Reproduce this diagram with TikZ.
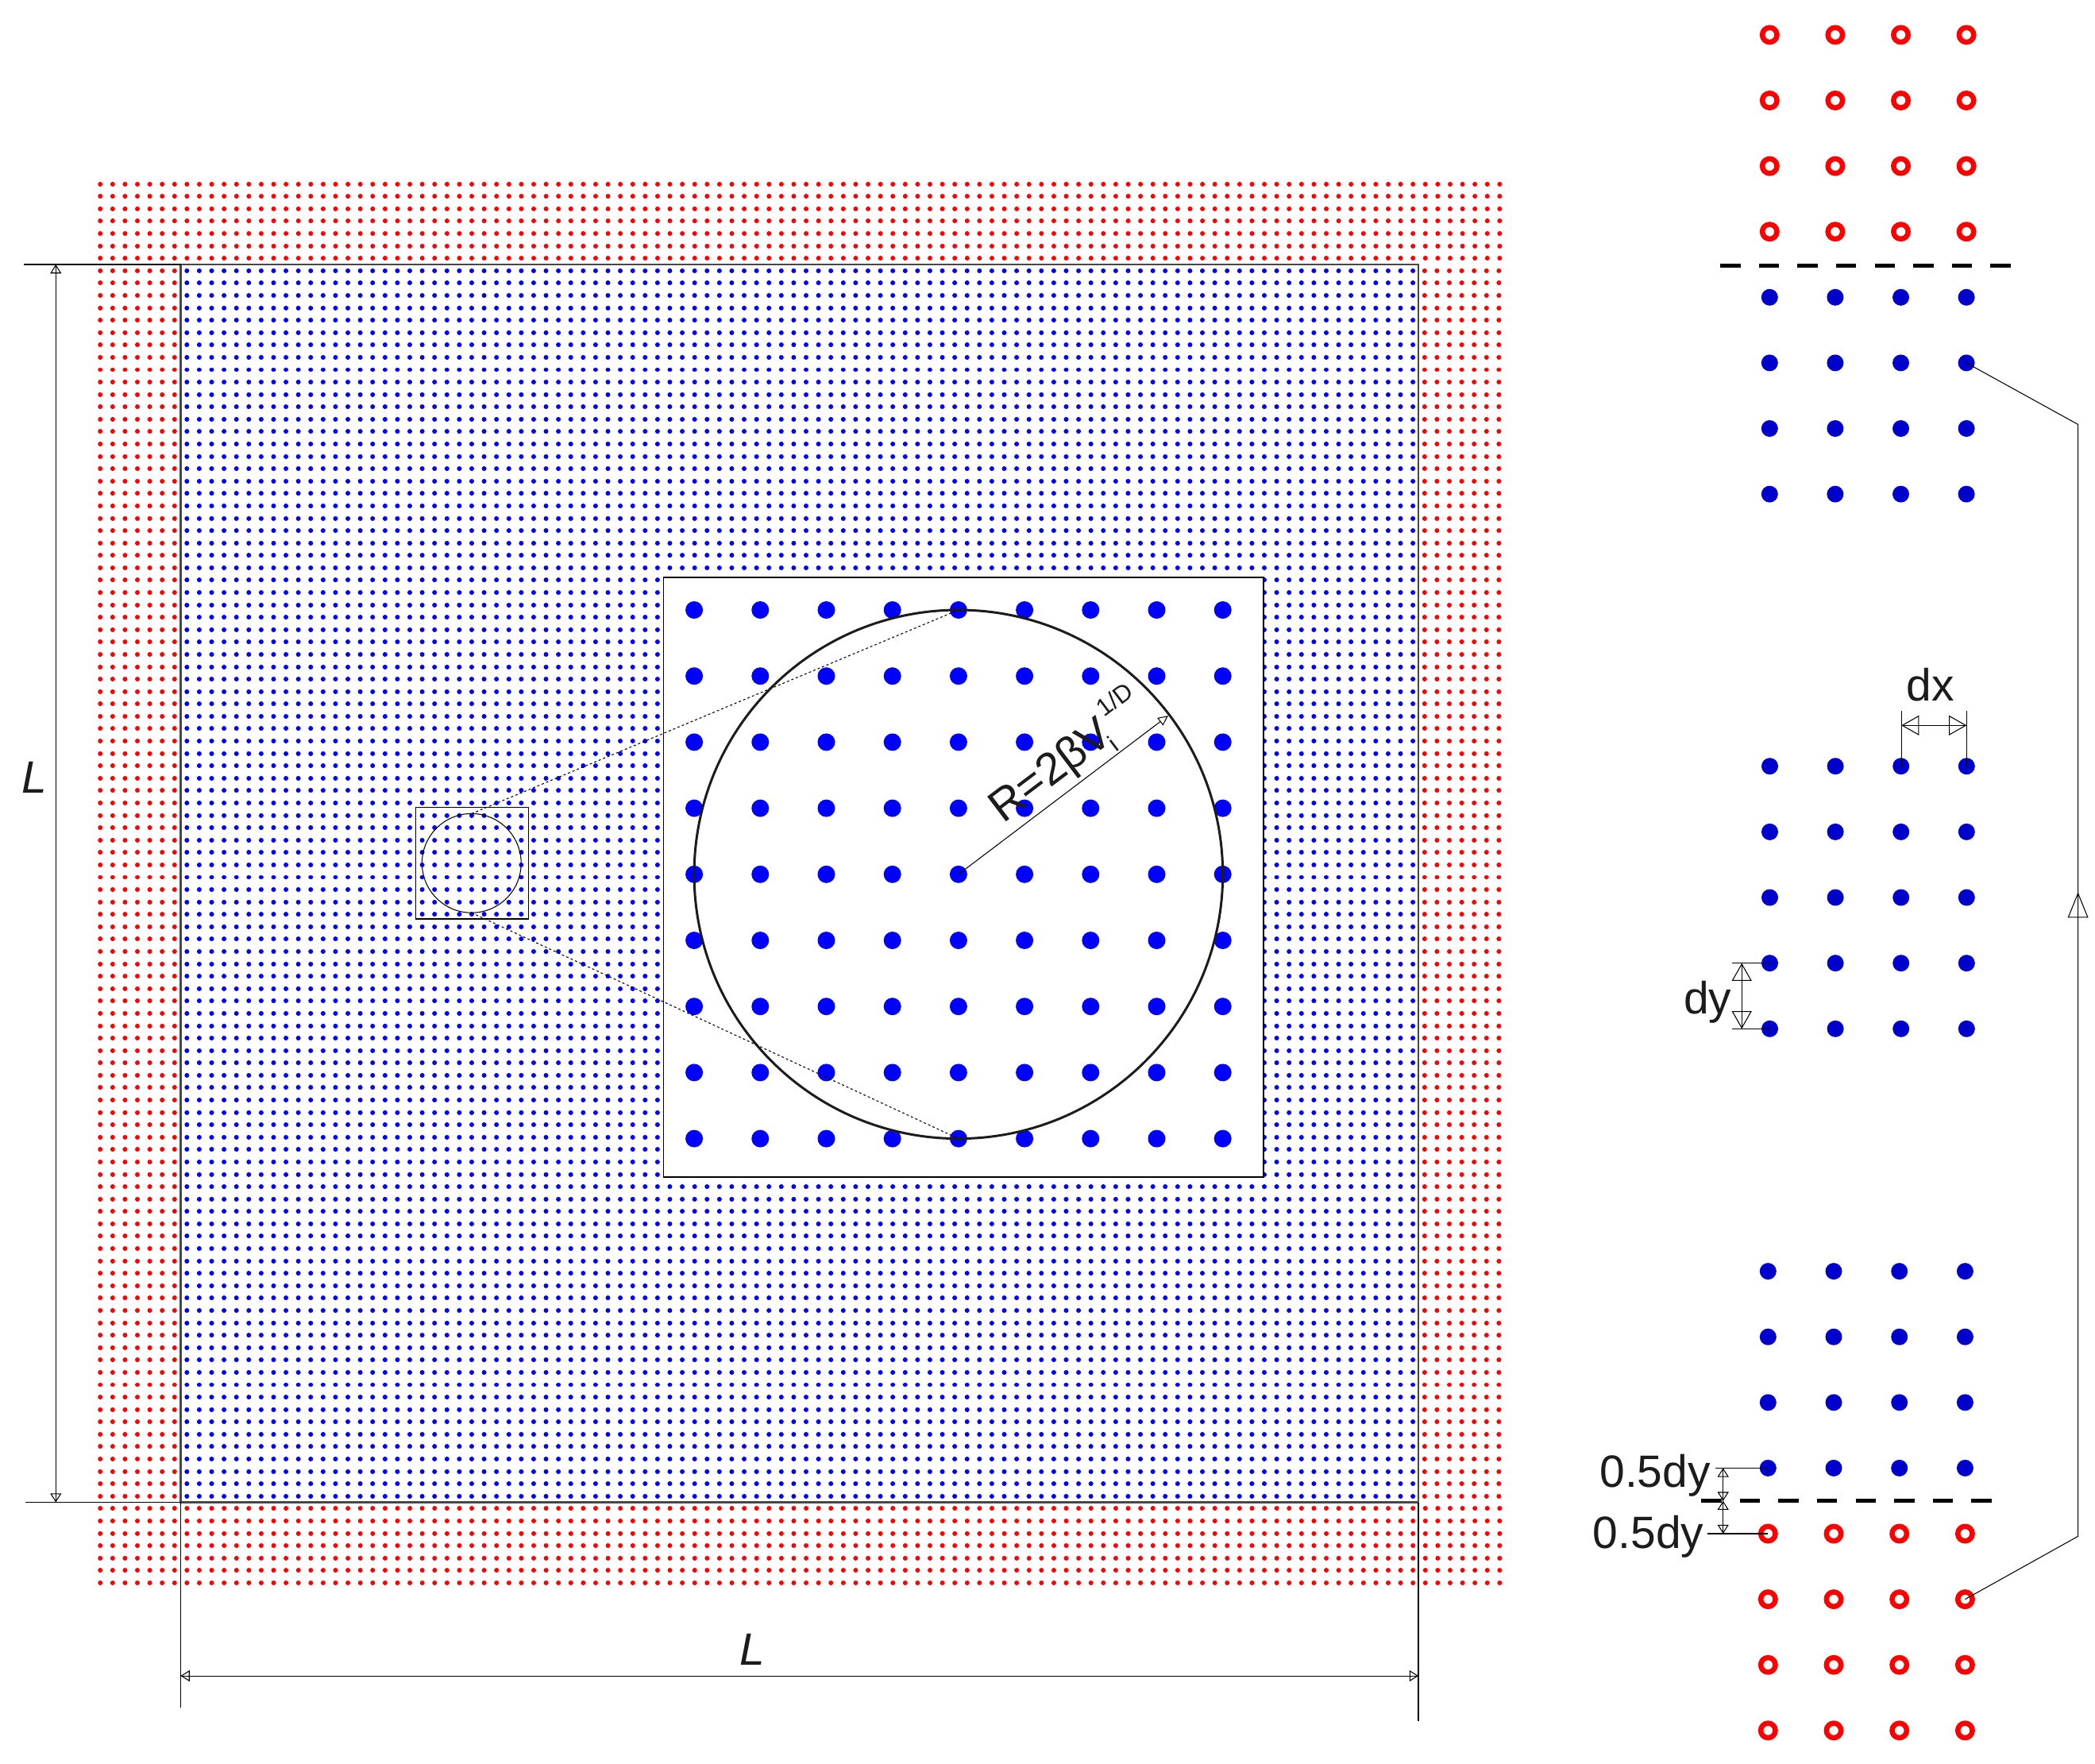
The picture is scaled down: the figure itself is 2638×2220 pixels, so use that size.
\documentclass[tikz,border=0pt]{standalone}
\usepackage{fontspec}
\setmainfont{Liberation Sans}
\usetikzlibrary{arrows.meta,calc}
\definecolor{fieldblue}{rgb}{0,0,1}
\definecolor{fieldred}{rgb}{1,0,0}
\definecolor{darkblue}{rgb}{0,0,0.8}
\definecolor{inkgray}{rgb}{0.11,0.11,0.11}
\newcommand\lblfont{\fontsize{16.2}{19}\selectfont}
\newcommand\smlfont{\fontsize{8.8}{10}\selectfont}
\begin{document}
\begin{tikzpicture}[x=0.01cm,y=-0.01cm,
  thinline/.style={line width=0.3pt, draw=black},
  reddots/.style={draw=fieldred, line width=1.7pt, line cap=round, dash pattern=on 0.01pt off 4.424363pt},
  bluedots/.style={draw=fieldblue, line width=1.7pt, line cap=round, dash pattern=on 0.01pt off 4.424363pt},
  dimsmall/.style={thinline, {Triangle[open,length=3.2pt,width=4pt]}-{Triangle[open,length=3.2pt,width=4pt]}},
  dimbig/.style={thinline, {Triangle[open,length=6.3pt,width=7.1pt]}-{Triangle[open,length=6.3pt,width=7.1pt]}},
  lbl/.style={font=\lblfont, text=inkgray, inner sep=0pt},
  ring/.style={draw=fieldred, line width=1.85pt},
  bdot/.style={fill=darkblue},
  sepline/.style={draw=black, line width=1.42pt, dash pattern=on 7.26pt off 6.57pt}
]
\useasboundingbox (0,0) rectangle (2638,2220);
\fill[white] (0,0) rectangle (2638,2220);

% ---------- particle field ----------
\foreach \j in {0,...,113}{
  \pgfmathsetmacro\yy{231.72+\j*15.585}
  \ifnum\j<7
    \draw[reddots] (126.2,\yy) -- (1890,\yy);
  \else\ifnum\j>106
    \draw[reddots] (126.2,\yy) -- (1890,\yy);
  \else
    \draw[reddots] (126.2,\yy) -- (222,\yy);
    \draw[bluedots] (235.29,\yy) -- (1781,\yy);
    \draw[reddots] (1793.78,\yy) -- (1890,\yy);
  \fi\fi
}
\draw[line width=0.7pt, black!72] (227.5,333) rectangle (1786,1891.5);

% ---------- dimension L (left) ----------
\coordinate (Ltop) at (70.3,333);
\coordinate (Lbot) at (70.3,1891.5);
\coordinate (Etl) at (30,333);
\coordinate (Ebl) at (32,1891.5);
\coordinate (boxtl) at (227.5,333);
\coordinate (boxbl) at (227.5,1891.5);
\coordinate (boxbr) at (1786,1891.5);
\draw[thinline] (Etl) -- (boxtl);
\draw[thinline] (Ebl) -- (boxbl);
\draw[thinline] (Ltop) -- (Lbot);
\draw[dimsmall] (Ltop) -- (Lbot);
\node[lbl, font=\lblfont\itshape, anchor=base] (Lleft) at (43,998.7) {L};

% ---------- dimension L (bottom) ----------
\coordinate (Ebottoml) at (227.5,2150);
\coordinate (Ebottomr) at (1786,2167);
\coordinate (Dl) at (227.5,2110);
\coordinate (Dr) at (1786,2110);
\draw[thinline] (boxbl) -- (Ebottoml);
\draw[thinline] (boxbr) -- (Ebottomr);
\draw[thinline] (Dl) -- (Dr);
\draw[dimsmall] (Dl) -- (Dr);
\node[lbl, font=\lblfont\itshape, anchor=base] (Lbottom) at (947,2096.7) {L};

% ---------- inset ----------
\filldraw[fill=white, draw=black, line width=0.45pt] (835.7,726.7) rectangle (1591,1482);
\foreach \i in {0,...,8}{
  \foreach \k in {0,...,8}{
    \fill[fieldblue] ({874.1+\i*83.2},{768+\k*83.2}) circle[radius=11];
  }
}
\coordinate (bc) at (1206.9,1100.8);
\coordinate (bctop) at (1206.9,768);
\coordinate (bcbot) at (1206.9,1433.6);
\draw[line width=0.85pt, inkgray] (bc) circle[radius=332.8];

% small window
\coordinate (sc) at (593.8,1086.8);
\coordinate (sctop) at (593.8,1024.4);
\coordinate (scbot) at (593.8,1149.2);
\draw[line width=0.4pt] (523.3,1016.3) rectangle (665.7,1157);
\draw[line width=0.3pt] (sc) circle[radius=62.4];
\draw[line width=0.3pt, dash pattern=on 0.85pt off 0.85pt] (sctop) -- (bctop);
\draw[line width=0.3pt, dash pattern=on 0.85pt off 0.85pt] (scbot) -- (bcbot);

% radius
\coordinate (rend) at (1470.9,901.1);
\draw[thinline, -{Triangle[open,length=3.6pt,width=3.4pt]}] (bc) -- (rend);
\node[lbl, rotate=37.1, anchor=base west] (rlabel) at (1262.6,1038.2)
  {R=2βV\kern-2.6pt\raisebox{-4pt}{\smlfont i}\kern2.3pt\raisebox{8.5pt}{\smlfont 1/D}};

% ---------- right column ----------
% top section
\foreach \c in {0,...,3}{
  \foreach \r in {0,...,3}{
    \draw[ring] ({2228.3+\c*82.6},{43.9+\r*82.6}) circle[radius=9.2];
    \fill[bdot] ({2228.3+\c*82.6},{374.3+\r*82.6}) circle[radius=10.5];
  }
}
\draw[sepline] (2166,334) -- (2532,334);
% middle section
\foreach \c in {0,...,3}{
  \foreach \r in {0,...,4}{
    \fill[bdot] ({2228.5+\c*82.6},{964.7+\r*82.65}) circle[radius=10.5];
  }
}
% bottom section
\foreach \c in {0,...,3}{
  \foreach \r in {0,...,3}{
    \fill[bdot] ({2226.3+\c*82.7},{1600.6+\r*82.6}) circle[radius=10.5];
    \draw[ring] ({2226.3+\c*82.7},{1931+\r*82.6}) circle[radius=9.2];
  }
}
\draw[sepline] (2142,1889.7) -- (2508,1889.7);

% periodic connector
\coordinate (pblue) at (2476.1,456.9);
\coordinate (pc1) at (2616.6,534.4);
\coordinate (pc2) at (2616.6,1934.3);
\coordinate (pred) at (2474.4,2013.6);
\coordinate (parrowbase) at (2616.6,1180);
\coordinate (parrowtip) at (2616.6,1123.3);
\draw[thinline] (pred) -- (pc2) -- (pc1) -- (pblue);
\draw[thinline, -{Triangle[open,length=9.1pt,width=7.3pt]}] (parrowbase) -- (parrowtip);

% dx
\coordinate (dxa) at (2394.2,913.3);
\coordinate (dxb) at (2476.3,913.3);
\draw[thinline] (2394.2,895) -- (2394.2,964.7);
\draw[thinline] (2476.3,895) -- (2476.3,964.7);
\draw[thinline] (dxa) -- (dxb);
\draw[dimbig] (dxa) -- (dxb);
\node[lbl, anchor=base] (dxlabel) at (2431,882.7) {dx};

% dy
\coordinate (dya) at (2193.2,1212.7);
\coordinate (dyb) at (2193.2,1295.3);
\draw[thinline] (2181,1212.7) -- (2228.5,1212.7);
\draw[thinline] (2181,1295.3) -- (2228.5,1295.3);
\draw[thinline] (dya) -- (dyb);
\draw[dimbig] (dya) -- (dyb);
\node[lbl, anchor=base east] (dylabel) at (2181,1276.7) {dy};

% 0.5dy
\coordinate (ha) at (2169.7,1848.3);
\coordinate (hb) at (2169.7,1889.7);
\coordinate (hc) at (2169.7,1931);
\draw[thinline] (2160,1848.3) -- (2226.3,1848.3);
\draw[thinline] (2150,1931) -- (2226.3,1931);
\draw[thinline] (ha) -- (hc);
\draw[dimsmall] (ha) -- (hb);
\draw[dimsmall] (hb) -- (hc);
\node[lbl, anchor=base east] (hlabela) at (2154.5,1872.7) {0.5dy};
\node[lbl, anchor=base east] (hlabelb) at (2146,1949.3) {0.5dy};
\end{tikzpicture}
\end{document}
